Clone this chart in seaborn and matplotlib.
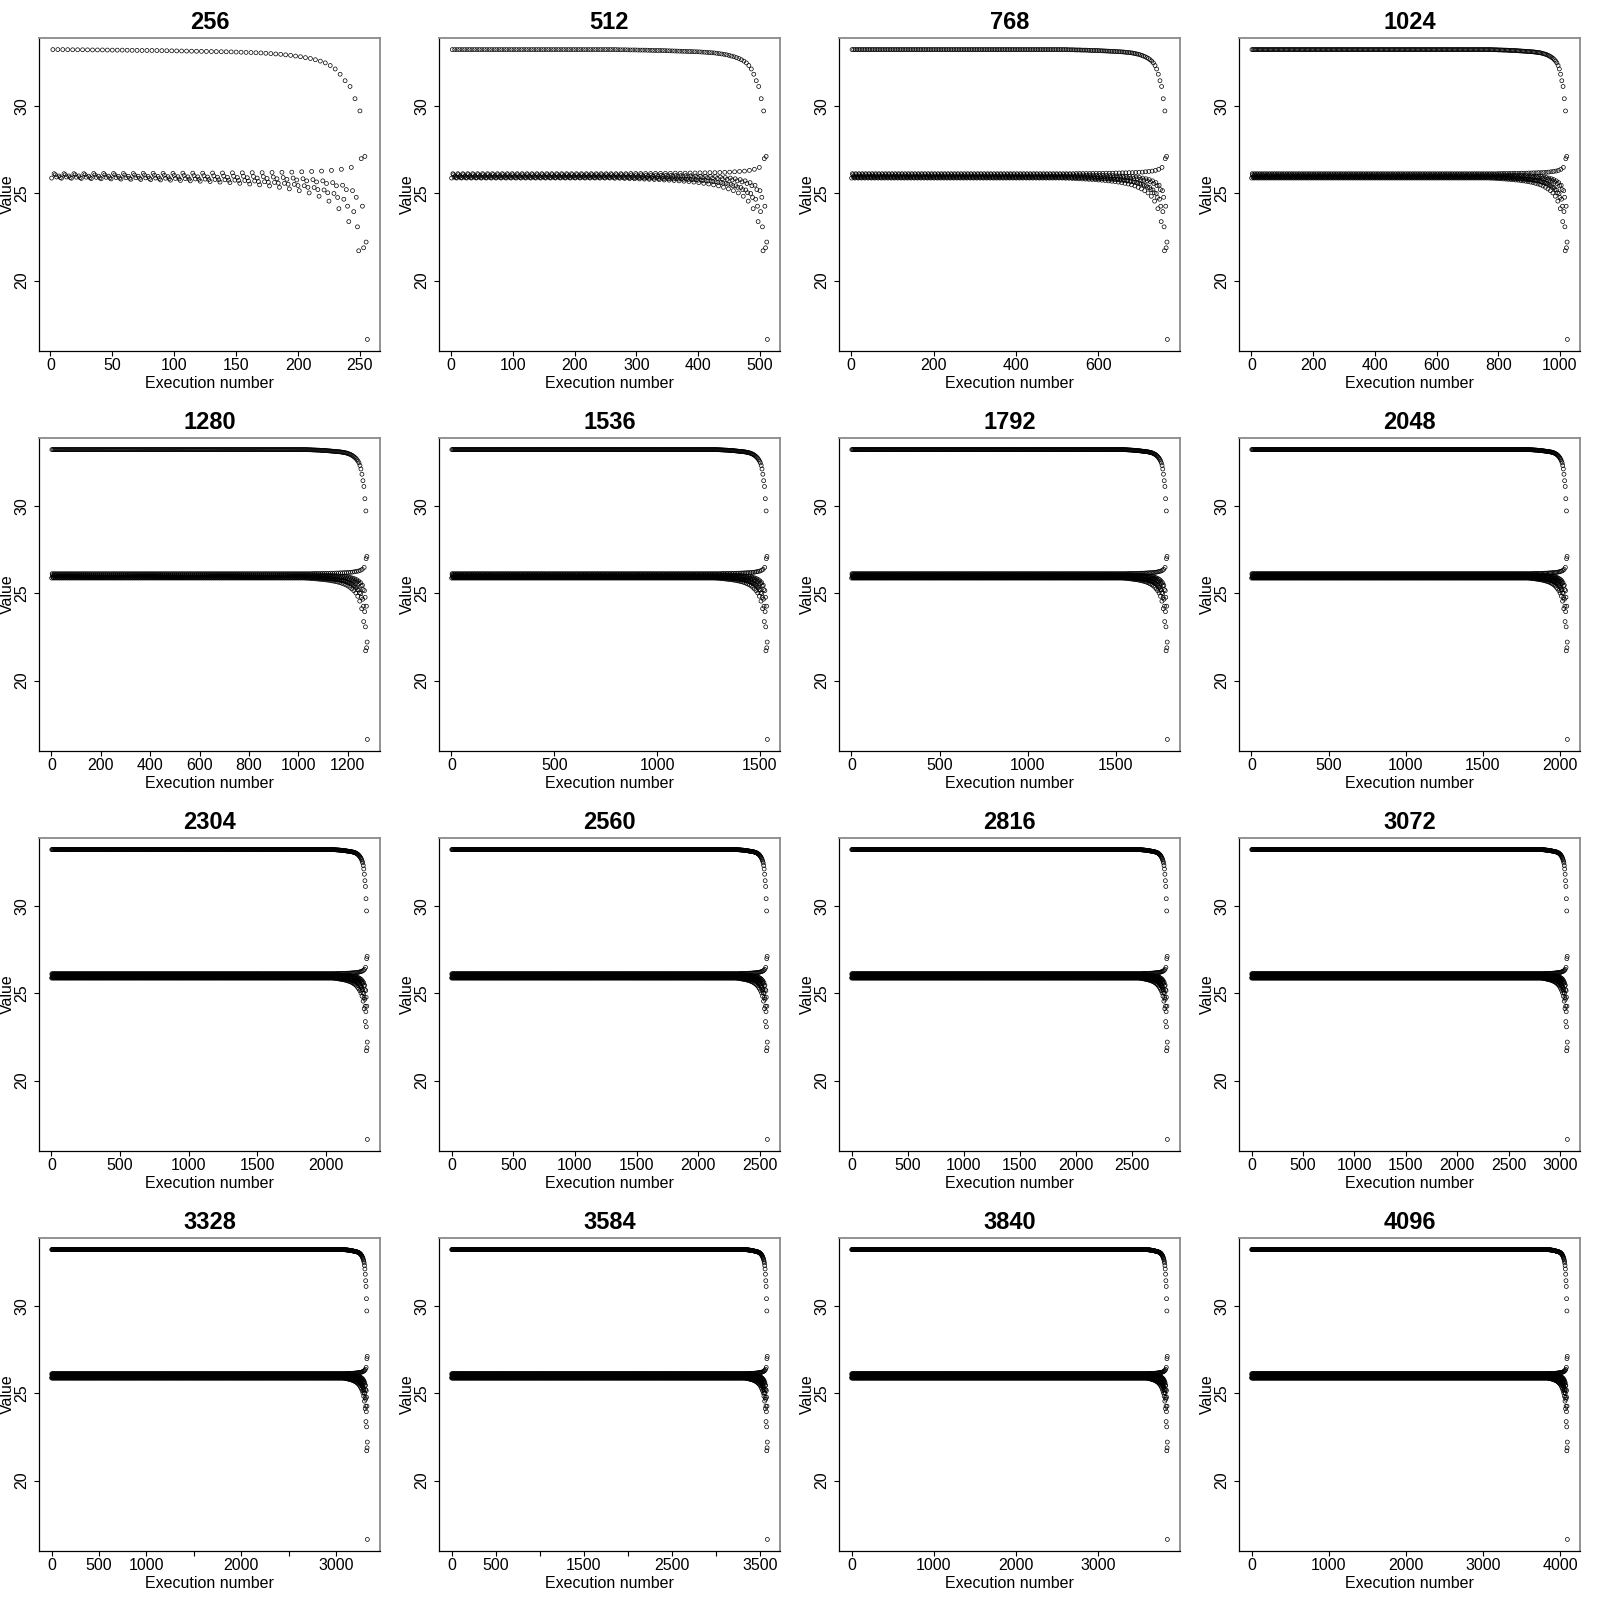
import numpy as np
import pandas as pd
import matplotlib
matplotlib.use("Agg")
import matplotlib.pyplot as plt
import seaborn as sns

# ---------------- data ----------------
sizes = [256, 512, 768, 1024, 1280, 1536, 1792, 2048,
         2304, 2560, 2816, 3072, 3328, 3584, 3840, 4096]

# Each run is made of 8 interleaved lanes; position k counts back from the
# last execution (k = 0 is the last point).  lane = k % 8, step = k // 8.
# Values, step 0 first (the end of the run);
# the last entry of each lane is its plateau level.
lane0 = [16.63, 23.07, 24.25, 24.75, 25.02, 25.20, 25.33, 25.43, 25.51, 25.57,
         25.62, 25.66, 25.69, 25.72, 25.74, 25.76, 25.78, 25.79, 25.80, 25.81,
         25.82, 25.83, 25.84, 25.85, 25.85, 25.86, 25.87, 25.87, 25.88, 25.88,
         25.89, 25.89]
lane1 = [22.20, 24.76, 25.20, 25.42, 25.55, 25.64, 25.70, 25.75, 25.79, 25.82,
         25.84, 25.86, 25.88, 25.89, 25.90, 25.91, 25.92, 25.93, 25.93, 25.94,
         25.94, 25.95, 25.95, 25.96, 25.96, 25.96, 25.97, 25.97, 25.97, 25.98,
         25.98, 25.98]
lane2 = [27.10, 30.40, 31.43, 32.10, 32.45, 32.63, 32.75, 32.84, 32.91, 32.96,
         33.00, 33.03, 33.05, 33.07, 33.085, 33.095, 33.105, 33.115, 33.125,
         33.135, 33.145, 33.155, 33.16, 33.165, 33.175, 33.18, 33.185, 33.19,
         33.195, 33.20, 33.205, 33.21]
lane3 = [21.87, 23.94, 24.65, 24.98, 25.18, 25.32, 25.42, 25.50, 25.56, 25.61,
         25.65, 25.69, 25.72, 25.74, 25.76, 25.78, 25.80, 25.81, 25.83, 25.84,
         25.85, 25.86, 25.87, 25.88, 25.88, 25.89, 25.90, 25.90, 25.91, 25.91,
         25.92, 25.92]
lane4 = [24.25, 25.14, 25.45, 25.60, 25.70, 25.77, 25.82, 25.86, 25.89, 25.92,
         25.94, 25.95, 25.96, 25.97, 25.98, 25.99, 26.00, 26.00, 26.01, 26.01,
         26.02, 26.02, 26.03, 26.03, 26.03, 26.04, 26.04, 26.04, 26.05, 26.05,
         26.05, 26.05]
lane5 = [26.97, 26.47, 26.36, 26.30, 26.26, 26.24, 26.22, 26.20, 26.19, 26.18,
         26.17, 26.17, 26.16, 26.16, 26.15, 26.15, 26.14, 26.14, 26.14, 26.13,
         26.13, 26.13, 26.13, 26.12, 26.12, 26.12, 26.12, 26.12, 26.11, 26.11,
         26.11, 26.11]
lane6 = [29.70, 31.10, 31.80, 32.30, 32.55, 32.70, 32.80, 32.88, 32.94, 32.98,
         33.02, 33.04, 33.06, 33.08, 33.09, 33.10, 33.11, 33.12, 33.13, 33.14,
         33.15, 33.16, 33.16, 33.17, 33.18, 33.18, 33.19, 33.19, 33.20, 33.20,
         33.21, 33.21]
lane7 = [21.70, 23.37, 24.11, 24.54, 24.82, 25.01, 25.14, 25.24, 25.33, 25.41,
         25.47, 25.52, 25.56, 25.60, 25.63, 25.66, 25.68, 25.70, 25.72, 25.74,
         25.75, 25.77, 25.78, 25.79, 25.80, 25.81, 25.82, 25.83, 25.84, 25.85,
         25.85, 25.86]
lanes = [lane0, lane1, lane2, lane3, lane4, lane5, lane6, lane7]

xticks = {
    256: [0, 50, 100, 150, 200, 250],
    512: [0, 100, 200, 300, 400, 500],
    768: [0, 200, 400, 600],
    1024: [0, 200, 400, 600, 800, 1000],
    1280: [0, 200, 400, 600, 800, 1000, 1200],
    1536: [0, 500, 1000, 1500],
    1792: [0, 500, 1000, 1500],
    2048: [0, 500, 1000, 1500, 2000],
    2304: [0, 500, 1000, 1500, 2000],
    2560: [0, 500, 1000, 1500, 2000, 2500],
    2816: [0, 500, 1000, 1500, 2000, 2500],
    3072: [0, 500, 1000, 1500, 2000, 2500, 3000],
    3328: [0, 500, 1000, 1500, 2000, 2500, 3000],
    3584: [0, 500, 1000, 1500, 2000, 2500, 3000, 3500],
    3840: [0, 1000, 2000, 3000],
    4096: [0, 1000, 2000, 3000, 4000],
}
hidden_labels = {3328: [1500, 2500], 3584: [1000, 2000, 3000]}
yticks = [20, 25, 30]
xlabel_text = "Execution number"
ylabel_text = "Value"

# ---------------- style ----------------
sns.set_style("ticks")
plt.rcParams["font.family"] = ["Liberation Sans", "DejaVu Sans"]
for key in ["text.color", "axes.labelcolor", "xtick.color", "ytick.color",
            "xtick.labelcolor", "ytick.labelcolor"]:
    plt.rcParams[key] = "black"

W = 1600.0
fig = plt.figure(figsize=(16, 16), dpi=100)

for idx, N in enumerate(sizes):
    r, c = divmod(idx, 4)
    x = np.arange(1, N + 1)
    kk = N - x
    vals = [lanes[k % 8][min(k // 8, len(lanes[k % 8]) - 1)] for k in kk]
    df = pd.DataFrame({"Execution number": x, "Value": vals})

    left = (c * 400 + 39) / W
    bottom = 1 - (r * 400 + 351) / W
    ax = fig.add_axes([left, bottom, 341 / W, 313 / W])
    sns.scatterplot(data=df, x="Execution number", y="Value", ax=ax,
                    marker="o", s=8, facecolor="none", edgecolor="black",
                    linewidth=0.5, legend=False)

    ymin, ymax = min(min(l) for l in lanes), max(max(l) for l in lanes)
    ypad = 0.04 * (ymax - ymin)
    ax.set_ylim(ymin - ypad, ymax + ypad)
    xpad = 0.04 * (N - 1)
    ax.set_xlim(1 - xpad, N + xpad)

    ticks = xticks[N]
    labels = ["" if t in hidden_labels.get(N, []) else str(t) for t in ticks]
    ax.set_xticks(ticks)
    ax.set_xticklabels(labels)
    ax.set_yticks(yticks)
    ax.set_yticklabels([str(t) for t in yticks], rotation=90, va="center")

    ax.tick_params(axis="both", direction="out", length=3.5, width=0.8,
                   color="black", labelsize=11.5, labelcolor="black")
    ax.tick_params(axis="x", pad=1.5)
    ax.tick_params(axis="y", pad=3.5)

    for sp in ["top", "right"]:
        ax.spines[sp].set_color("#8a8a8a")
        ax.spines[sp].set_linewidth(1.3)
    for sp in ["left", "bottom"]:
        ax.spines[sp].set_color("black")
        ax.spines[sp].set_linewidth(0.9)

    ax.set_title(str(N), fontsize=17, fontweight="bold", pad=6.5,
                 color="black")
    ax.set_xlabel(xlabel_text, fontsize=11.5, color="black")
    ax.xaxis.set_label_coords(0.5, -0.08)
    ax.set_ylabel("")
    fig.text((c * 400 + 7) / W, 1 - (r * 400 + 194.5) / W, ylabel_text,
             rotation=90, ha="center", va="center", fontsize=11.5,
             color="black")

fig.savefig("out.png", dpi=100)
